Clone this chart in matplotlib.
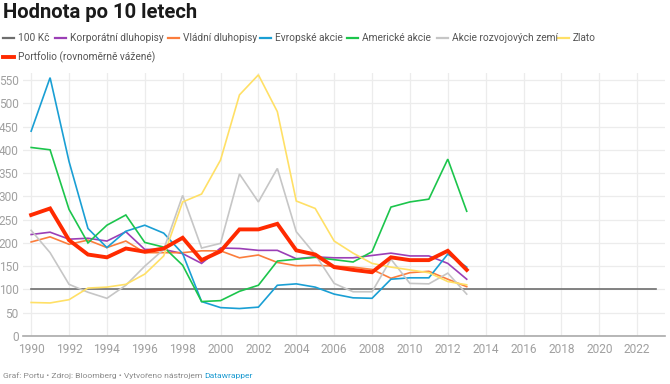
import matplotlib.pyplot as plt
from matplotlib.lines import Line2D
import numpy as np

plt.rcParams['font.family'] = ['Roboto', 'DejaVu Sans']

years = np.arange(1990, 2014)
benchmark_years = [1990, 2023]
benchmark = [100, 100]

korporatni = [218, 223, 208, 210, 204, 224, 186, 186, 177, 156, 189, 188,
              184, 184, 166, 170, 168, 168, 173, 178, 172, 172, 156, 122]
vladni = [202, 213, 197, 206, 190, 204, 179, 179, 179, 183, 183, 168,
          174, 158, 151, 152, 150, 148, 143, 124, 136, 139, 122, 106]
evropske = [440, 555, 375, 231, 190, 225, 238, 221, 177, 74, 61, 59,
            62, 109, 112, 105, 90, 82, 81, 122, 125, 125, 176, 148]
americke = [405, 400, 272, 200, 238, 260, 201, 191, 152, 74, 76, 96,
            109, 161, 165, 169, 164, 159, 181, 277, 288, 294, 380, 268]
rozvojove = [227, 179, 111, 94, 81, 109, 150, 186, 302, 189, 199, 348,
             288, 360, 224, 175, 113, 95, 95, 165, 113, 112, 135, 90]
zlato = [72, 71, 78, 103, 105, 111, 133, 172, 288, 305, 378, 518,
         561, 482, 290, 274, 204, 178, 156, 148, 142, 136, 117, 110]
portfolio = [260, 274, 206, 175, 169, 188, 181, 188, 211, 163, 182, 229,
             229, 241, 184, 175, 148, 142, 137, 169, 163, 163, 183, 142]

series = [
    ('100 Kč', benchmark_years, benchmark, '#6e6e6e', 1.2),
    ('Korporátní dluhopisy', years, korporatni, '#9b3fb6', 1.2),
    ('Vládní dluhopisy', years, vladni, '#fb7d3c', 1.2),
    ('Evropské akcie', years, evropske, '#1a9fd4', 1.2),
    ('Americké akcie', years, americke, '#1cc54c', 1.2),
    ('Akcie rozvojových zemí', years, rozvojove, '#c6c6c6', 1.2),
    ('Zlato', years, zlato, '#ffe066', 1.2),
    ('Portfolio (rovnoměrně vážené)', years, portfolio, '#ff2a00', 2.8),
]

W, H = 670, 384
fig = plt.figure(figsize=(W / 100, H / 100), dpi=100)
ax = fig.add_axes([23 / W, 1 - 336 / H, (665 - 23) / W, (336 - 73) / H])

for name, x, y, c, lw in series:
    ax.plot(x, y, color=c, lw=lw, solid_joinstyle='miter', zorder=3)

ax.set_xlim(1989.57, 2023.47)
ax.set_ylim(0, 565)
ax.set_xticks(np.arange(1990, 2023, 2))
ax.set_yticks(np.arange(0, 551, 50))
ax.grid(color='#ececec', lw=0.9, zorder=0)
for s in ['top', 'right', 'left']:
    ax.spines[s].set_visible(False)
ax.spines['bottom'].set_color('#aaaaaa')
ax.spines['bottom'].set_linewidth(1.2)
ax.tick_params(length=0, colors='#a0a0a0', labelsize=8.6)
ax.tick_params(axis='y', pad=3)
ax.tick_params(axis='x', pad=5)

fig.text(3 / W, 1 - 12 / H, 'Hodnota po 10 letech', fontsize=14.6,
         fontweight='bold', color='#1a1a1a', va='center', ha='left')

# legend: line start x and row y, in pixels
legend_pos = [(3, 38), (55, 38), (168, 38), (260, 38), (347, 38),
              (437, 38), (558, 38), (3, 57)]
for (name, x, y, c, lw), (lx, ly) in zip(series, legend_pos):
    yy = 1 - ly / H
    fig.add_artist(Line2D([lx / W, (lx + 11) / W], [yy, yy], color=c,
                          lw=max(lw, 1.6), transform=fig.transFigure))
    fig.text((lx + 15) / W, yy, name, fontsize=7.3, color='#555555',
             va='center', ha='left')

# footer
t = fig.text(3 / W, 1 - 376 / H, 'Graf: Portu • Zdroj: Bloomberg • Vytvořeno nástrojem ',
             fontsize=6.1, color='#8a8a8a', va='center', ha='left')
fig.canvas.draw()
bb = t.get_window_extent()
fig.text(bb.x1 / W, 1 - 376 / H, 'Datawrapper', fontsize=6.1, color='#1d9bd1',
         va='center', ha='left')

fig.savefig('out.png', dpi=100)
